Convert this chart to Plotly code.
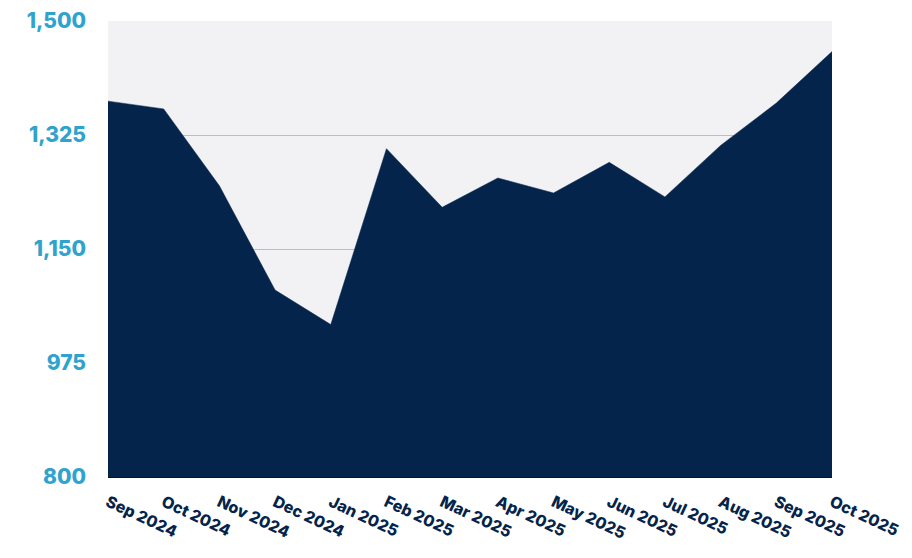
import plotly.graph_objects as go

months = ["Sep 2024", "Oct 2024", "Nov 2024", "Dec 2024", "Jan 2025", "Feb 2025",
          "Mar 2025", "Apr 2025", "May 2025", "Jun 2025", "Jul 2025", "Aug 2025",
          "Sep 2025", "Oct 2025"]
values = [1377, 1365, 1247, 1087, 1034, 1304, 1214, 1259, 1236, 1283, 1230, 1309, 1374, 1453]
y_ticks = [800, 975, 1150, 1325, 1500]
y_tick_labels = ["800", "975", "1,150", "1,325", "1,500"]

navy = "#05244B"
blue = "#2FA3CD"

fig = go.Figure()
fig.add_trace(go.Scatter(
    x=months, y=values, mode="lines", fill="tozeroy",
    fillcolor=navy, line=dict(color=navy, width=0.5),
    hoverinfo="x+y", showlegend=False,
))

fig.update_layout(
    width=912, height=558,
    margin=dict(l=100, r=88, t=13, b=89),
    paper_bgcolor="white",
    plot_bgcolor="#F2F2F5",
    font=dict(family="Inter, Lato, sans-serif"),
    xaxis=dict(
        type="category", range=[0, len(months) - 1],
        showgrid=False, ticks="", tickangle=25, automargin=False,
        tickfont=dict(size=16, color=navy, family="Inter, sans-serif", weight=800),
        showline=True, linecolor="#111111", linewidth=1,
        ticklabelstandoff=9,
    ),
    yaxis=dict(
        range=[800, 1500], tickvals=y_ticks, ticktext=y_tick_labels,
        showgrid=True, gridcolor="#BDBDBD", gridwidth=1, automargin=False,
        zeroline=False, ticks="",
        tickfont=dict(size=21, color=blue, family="Inter, sans-serif", weight=800),
        ticklabelstandoff=21,
    ),
)

fig.write_html("out.html")
